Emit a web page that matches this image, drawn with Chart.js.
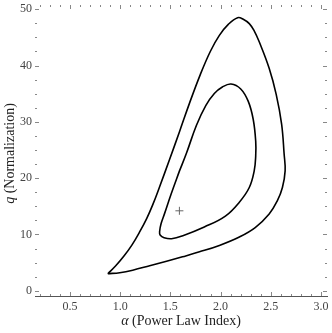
<!DOCTYPE html>
<html>
<head>
<meta charset="utf-8">
<script src="https://cdn.jsdelivr.net/npm/chart.js@4.4.1/dist/chart.umd.min.js"></script>
<style>
  html, body { margin: 0; padding: 0; background: #fff; }
  #grafico { display: block; }
</style>
</head>
<body>
<canvas id="grafico" width="332" height="333"></canvas>
<script>
// contorno externo
const outerAlpha = [0.877, 0.956, 1.036, 1.115, 1.194, 1.264, 1.323, 1.393, 1.492, 1.591, 1.690, 1.800, 1.899, 1.988, 2.077, 2.170, 2.226, 2.286, 2.335, 2.385, 2.484, 2.554, 2.608, 2.633, 2.643, 2.616, 2.566, 2.484, 2.345, 2.187, 1.988, 1.790, 1.621, 1.462, 1.294, 1.125, 0.996, 0.877];
const outerQ     = [3.03, 4.44, 6.12, 8.06, 10.44, 12.82, 15.20, 18.47, 23.31, 28.25, 33.28, 38.48, 42.54, 45.36, 47.30, 48.50, 48.22, 47.44, 46.16, 44.21, 39.51, 34.87, 29.58, 24.29, 21.29, 18.34, 16.00, 13.65, 11.23, 9.56, 8.06, 6.91, 6.03, 5.24, 4.44, 3.65, 3.21, 3.03];

// contorno interno
const innerAlpha = [1.591, 1.661, 1.760, 1.854, 1.938, 2.018, 2.104, 2.201, 2.276, 2.325, 2.350, 2.350, 2.335, 2.286, 2.187, 2.048, 1.838, 1.631, 1.512, 1.438, 1.398, 1.393, 1.408, 1.442, 1.507, 1.591];
const innerQ     = [21.29, 24.46, 29.40, 32.93, 35.04, 36.19, 36.72, 35.84, 33.63, 30.46, 26.58, 23.93, 21.29, 18.34, 15.73, 13.26, 11.32, 9.82, 9.24, 9.42, 9.91, 10.53, 11.94, 13.70, 17.14, 21.29];

// melhor ajuste
const bestAlpha = [1.59];
const bestQ = [14.2];

const xTicks = [0.5, 1.0, 1.5, 2.0, 2.5, 3.0];
const yTicks = [0, 10, 20, 30, 40, 50];
const xMinor = [0.2, 0.3, 0.4, 0.6, 0.7, 0.8, 0.9, 1.1, 1.2, 1.3, 1.4, 1.6, 1.7, 1.8, 1.9, 2.1, 2.2, 2.3, 2.4, 2.6, 2.7, 2.8, 2.9];
const yMinor = [2.5, 5, 7.5, 12.5, 15, 17.5, 22.5, 25, 27.5, 32.5, 35, 37.5, 42.5, 45, 47.5];

function pontos(xs, ys) {
  return xs.map((v, i) => ({ x: v, y: ys[i] }));
}

const marcasEixos = {
  id: "marcasEixos",
  afterDraw(chart) {
    const ctx = chart.ctx;
    const area = chart.chartArea;
    const sx = chart.scales.x, sy = chart.scales.y;
    ctx.save();
    ctx.strokeStyle = "#888";
    ctx.lineWidth = 1;
    ctx.beginPath();
    const marcaX = (v, len) => {
      const px = Math.round(sx.getPixelForValue(v)) + 0.5;
      ctx.moveTo(px, area.bottom); ctx.lineTo(px, area.bottom - len);
      ctx.moveTo(px, area.top); ctx.lineTo(px, area.top + len);
    };
    const marcaY = (v, len) => {
      const py = Math.round(sy.getPixelForValue(v)) + 0.5;
      ctx.moveTo(area.left, py); ctx.lineTo(area.left + len, py);
      ctx.moveTo(area.right, py); ctx.lineTo(area.right - len, py);
    };
    xTicks.forEach(v => marcaX(v, 4));
    xMinor.forEach(v => marcaX(v, 2));
    yTicks.forEach(v => marcaY(v, 4));
    yMinor.forEach(v => marcaY(v, 2));
    ctx.stroke();

    // titulos dos eixos
    ctx.fillStyle = "#222";
    ctx.textBaseline = "middle";
    const fonteItalico = "italic 14px 'Liberation Serif'";
    const fonteNormal = "14px 'Liberation Serif'";

    const titulo = (cx, cy, simbolo, resto) => {
      ctx.font = fonteItalico;
      const w1 = ctx.measureText(simbolo).width;
      ctx.font = fonteNormal;
      const w2 = ctx.measureText(resto).width;
      const x0 = cx - (w1 + w2) / 2;
      ctx.textAlign = "left";
      ctx.font = fonteItalico;
      ctx.fillText(simbolo, x0, cy);
      ctx.font = fonteNormal;
      ctx.fillText(resto, x0 + w1, cy);
    };

    const cx = (area.left + area.right) / 2;
    titulo(cx, 321, "\u03b1", " (Power Law Index)");

    ctx.translate(10, (area.top + area.bottom) / 2 + 3);
    ctx.rotate(-Math.PI / 2);
    titulo(0, 0, "q", " (Normalization)");
    ctx.restore();
  }
};

new Chart(document.getElementById("grafico"), {
  type: "scatter",
  data: {
    datasets: [
      {
        label: "externo",
        data: pontos(outerAlpha, outerQ),
        showLine: true,
        borderColor: "#000",
        borderWidth: 1.6,
        pointRadius: 0,
        tension: 0.4,
        fill: false,
      },
      {
        label: "interno",
        data: pontos(innerAlpha, innerQ),
        showLine: true,
        borderColor: "#000",
        borderWidth: 1.6,
        pointRadius: 0,
        tension: 0.4,
        fill: false,
      },
      {
        label: "melhor",
        data: pontos(bestAlpha, bestQ),
        pointStyle: "cross",
        pointRadius: 4,
        borderColor: "#666",
        borderWidth: 1,
      },
    ],
  },
  options: {
    responsive: false,
    animation: false,
    devicePixelRatio: 1,
    layout: { padding: { top: 3, right: 4, left: 0, bottom: 0 } },
    plugins: {
      legend: { display: false },
      tooltip: { enabled: false },
    },
    scales: {
      x: {
        type: "linear",
        min: 0.152,
        max: 3.06,
        afterBuildTicks: (scale) => { scale.ticks = xTicks.map(v => ({ value: v })); },
        afterFit: (scale) => {
          scale.height = 37;
          scale.paddingLeft = 0;
          scale.paddingRight = 0;
        },
        grid: { display: true, drawOnChartArea: false, drawTicks: false },
        border: { display: true, color: "#555", width: 1 },
        ticks: {
          padding: 4,
          color: "#444",
          font: { family: "'Liberation Serif'", size: 12 },
          maxRotation: 0,
          callback: (v) => Number(v).toFixed(1),
        },
      },
      y: {
        type: "linear",
        min: -0.93,
        max: 50.75,
        afterBuildTicks: (scale) => { scale.ticks = yTicks.map(v => ({ value: v })); },
        afterFit: (scale) => {
          scale.width = 35;
          scale.paddingTop = 0;
          scale.paddingBottom = 0;
        },
        grid: { display: false, drawTicks: false },
        border: { display: false },
        ticks: {
          padding: 3,
          color: "#444",
          font: { family: "'Liberation Serif'", size: 12 },
          callback: (v) => String(v),
        },
      },
    },
  },
  plugins: [marcasEixos],
});
</script>
</body>
</html>
